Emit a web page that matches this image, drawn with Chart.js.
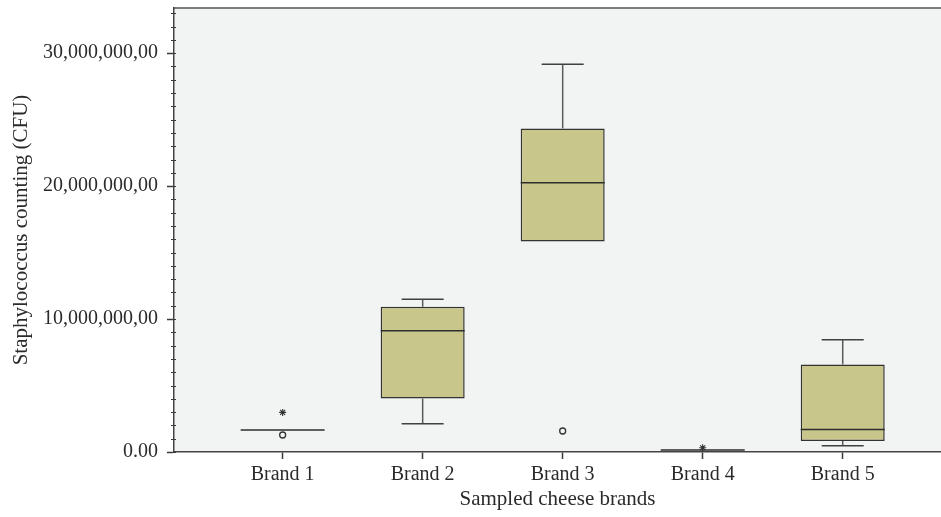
<!DOCTYPE html>
<html>
<head>
<meta charset="utf-8">
<script src="https://cdn.jsdelivr.net/npm/chart.js@4.4.1/dist/chart.umd.min.js"></script>
<style>
  html, body { margin: 0; padding: 0; background: #ffffff; }
  #wrap { width: 941px; height: 517px; position: relative; }
</style>
</head>
<body>
<div id="wrap"><canvas id="chart"></canvas></div>
<script>
// Staphylococcus counts (CFU) per sampled cheese brand: box plot summaries
const categories = ['Brand 1', 'Brand 2', 'Brand 3', 'Brand 4', 'Brand 5'];
const whiskerLow  = [1650000,  2130000, 15840000, 150000,  470000];
const q1          = [1650000,  4030000, 15840000, 150000,  830000];
const median      = [1650000,  9130000, 20250000, 150000, 1700000];
const q3          = [1650000, 10920000, 24340000, 150000, 6590000];
const whiskerHigh = [1650000, 11500000, 29170000, 150000, 8440000];

// Outliers (circles) and extreme values (stars)
const outlierCategory = ['Brand 1', 'Brand 3'];
const outlierValue    = [1280000, 1580000];
const extremeCategory = ['Brand 1', 'Brand 4'];
const extremeValue    = [2980000, 320000];

// Value axis ticks
const yTickValues = [0, 10000000, 20000000, 30000000];
const yTickLabels = ['0.00', '10,000,000,00', '20,000,000,00', '30,000,000,00'];
const yMinorStep = 1000000;

const pos = (cat) => categories.indexOf(cat) + 1;

const FONT = "'Liberation Serif', 'Times New Roman', serif";
const TEXT = '#2b2b2b';
const LINE = '#3a3a3a';

// Background panel, whiskers, medians and minor ticks, all placed through the chart scales
const boxPlotParts = {
  id: 'boxPlotParts',
  beforeDraw(chart) {
    const { ctx, chartArea: a } = chart;
    ctx.save();
    ctx.fillStyle = '#ffffff';
    ctx.fillRect(0, 0, chart.width, chart.height);
    ctx.fillStyle = '#f2f3f3';
    ctx.fillRect(a.left, a.top, a.right - a.left, a.bottom - a.top);
    ctx.strokeStyle = '#555555';
    ctx.lineWidth = 1.5;
    ctx.beginPath();
    ctx.moveTo(a.left, a.top);
    ctx.lineTo(a.right, a.top);
    ctx.stroke();
    ctx.restore();
  },
  afterDatasetDraw(chart, args) {
    if (args.index !== 0) return;
    const { ctx } = chart;
    const xs = chart.scales.x, ys = chart.scales.y;
    const meta = chart.getDatasetMeta(0);
    ctx.save();
    ctx.lineCap = 'butt';
    categories.forEach((c, i) => {
      const px = xs.getPixelForValue(i + 1);
      const bw = meta.data[i].width;
      const cap = bw / 4;
      const yq1 = ys.getPixelForValue(q1[i]);
      const yq3 = ys.getPixelForValue(q3[i]);
      const ylo = ys.getPixelForValue(whiskerLow[i]);
      const yhi = ys.getPixelForValue(whiskerHigh[i]);
      const ymed = ys.getPixelForValue(median[i]);
      // stems
      ctx.strokeStyle = '#5a5a5a';
      ctx.lineWidth = 1.5;
      ctx.beginPath();
      if (whiskerHigh[i] > q3[i]) { ctx.moveTo(px, yq3); ctx.lineTo(px, yhi); }
      if (whiskerLow[i] < q1[i]) { ctx.moveTo(px, yq1); ctx.lineTo(px, ylo); }
      ctx.stroke();
      // caps
      ctx.strokeStyle = '#404040';
      ctx.beginPath();
      if (whiskerHigh[i] > q3[i]) { ctx.moveTo(px - cap, yhi); ctx.lineTo(px + cap, yhi); }
      if (whiskerLow[i] < q1[i]) { ctx.moveTo(px - cap, ylo); ctx.lineTo(px + cap, ylo); }
      ctx.stroke();
      // median
      ctx.strokeStyle = '#2e2e2e';
      ctx.lineWidth = 1.5;
      ctx.beginPath();
      ctx.moveTo(px - bw / 2, ymed);
      ctx.lineTo(px + bw / 2, ymed);
      ctx.stroke();
    });
    ctx.restore();
  },
  afterDraw(chart) {
    const { ctx, chartArea: a } = chart;
    const ys = chart.scales.y;
    ctx.save();
    ctx.strokeStyle = LINE;
    ctx.lineWidth = 1;
    ctx.beginPath();
    for (let v = 0; v <= ys.max; v += yMinorStep) {
      const y = Math.round(ys.getPixelForValue(v)) + 0.5;
      ctx.moveTo(a.left - 3, y);
      ctx.lineTo(a.left + 2, y);
    }
    ctx.stroke();
    ctx.restore();
  }
};

new Chart(document.getElementById('chart'), {
  type: 'bar',
  data: {
    datasets: [
      {
        type: 'bar',
        data: categories.map((c, i) => ({ x: i + 1, y: [q1[i], q3[i]] })),
        backgroundColor: '#c8c68a',
        borderColor: '#333333',
        borderWidth: 1.5,
        borderSkipped: false,
        barPercentage: 0.6,
        categoryPercentage: 1.0
      },
      {
        type: 'scatter',
        data: outlierCategory.map((c, i) => ({ x: pos(c), y: outlierValue[i] })),
        pointStyle: 'circle',
        pointRadius: 3,
        borderColor: '#333333',
        borderWidth: 1.3,
        backgroundColor: 'rgba(0,0,0,0)'
      },
      {
        type: 'scatter',
        data: extremeCategory.map((c, i) => ({ x: pos(c), y: extremeValue[i] })),
        pointStyle: 'star',
        pointRadius: 3.5,
        borderColor: '#333333',
        borderWidth: 1.1,
        backgroundColor: 'rgba(0,0,0,0)'
      }
    ]
  },
  options: {
    responsive: true,
    maintainAspectRatio: false,
    animation: false,
    devicePixelRatio: 1,
    layout: { autoPadding: false, padding: { top: 8, right: 0, bottom: 0, left: 0 } },
    plugins: { legend: { display: false }, tooltip: { enabled: false } },
    scales: {
      x: {
        type: 'linear',
        offset: false,
        min: 0.224,
        max: 5.702,
        afterBuildTicks(scale) { scale.ticks = categories.map((c, i) => ({ value: i + 1 })); },
        afterFit(scale) { scale.height = 65; scale.paddingLeft = 0; scale.paddingRight = 0; },
        ticks: {
          callback: (v) => categories[v - 1],
          font: { family: FONT, size: 20 },
          color: TEXT,
          padding: 4,
          maxRotation: 0,
          autoSkip: false
        },
        grid: { offset: false, drawOnChartArea: false, drawTicks: true, tickLength: 7, color: LINE, tickWidth: 1.5 },
        border: { display: true, color: '#444444', width: 1.5 },
        title: {
          display: true,
          text: 'Sampled cheese brands',
          font: { family: FONT, size: 21 },
          color: TEXT,
          padding: { top: 0, bottom: 5 }
        }
      },
      y: {
        min: 0,
        max: 33400000,
        afterBuildTicks(scale) { scale.ticks = yTickValues.map(v => ({ value: v })); },
        afterFit(scale) { scale.width = 174; scale.paddingTop = 0; scale.paddingBottom = 0; },
        ticks: {
          callback: (v, i) => yTickLabels[i],
          font: { family: FONT, size: 20 },
          color: TEXT,
          padding: 9,
          autoSkip: false
        },
        grid: { drawOnChartArea: false, drawTicks: true, tickLength: 7, color: LINE, tickWidth: 1.5 },
        border: { display: true, color: '#444444', width: 1.5 },
        title: {
          display: true,
          text: 'Staphylococcus counting (CFU)',
          font: { family: FONT, size: 21 },
          color: TEXT,
          padding: { top: 9, bottom: 0 }
        }
      }
    }
  },
  plugins: [boxPlotParts]
});
</script>
</body>
</html>
